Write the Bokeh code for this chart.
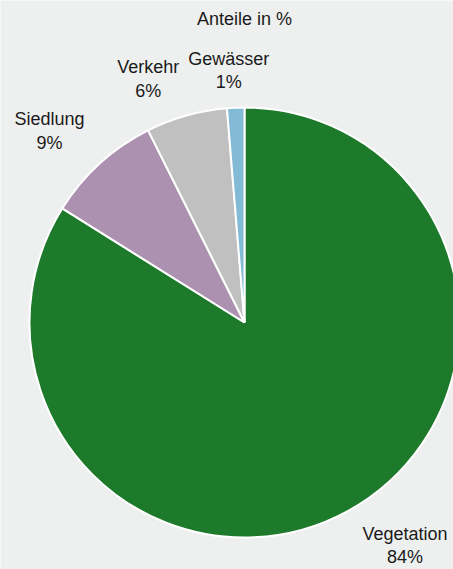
import math
import re
import numpy as np
from bokeh.plotting import figure
from bokeh.models import Range1d, ColumnDataSource
from bokeh.core.properties import value
from bokeh.embed import file_html
from bokeh.resources import INLINE

# ---- data ----
categories = ["Vegetation", "Siedlung", "Verkehr", "Gewässer"]
shares = [83.9, 8.7, 6.1, 1.3]
colors = ["#1e7a2b", "#ad91b1", "#c0c0c0", "#83bbd6"]
title_text = "Anteile in %"

BG = "#eef0ef"
W, H = 453, 569
FONT = "Liberation Sans"
FS = 18

# geometry in picture pixels; data y = -picture y
cx, cy, r = 244, 322, 215

p = figure(width=W, height=H, x_range=Range1d(0, W), y_range=Range1d(-H, 0),
           output_backend="svg", toolbar_location=None, min_border=0,
           background_fill_color=BG, border_fill_color=BG, outline_line_color=None)
p.axis.visible = False
p.xgrid.visible = False
p.ygrid.visible = False

fr = np.array(shares) / sum(shares)
cum_end = np.cumsum(fr)
cum_start = cum_end - fr
start = math.pi / 2 - 2 * math.pi * cum_start
end = math.pi / 2 - 2 * math.pi * cum_end

src = ColumnDataSource(dict(x=[cx] * len(categories), y=[-cy] * len(categories),
                            start=start, end=end, color=colors))
p.wedge(x="x", y="y", radius=r, start_angle="start", end_angle="end",
        direction="clock", fill_color="color", line_color="white", line_width=2, source=src)

# labels
lx, ly, lt = [], [], []
d = 18
h = 38
for cat, s, f0, f1 in zip(categories, shares, cum_start, cum_end):
    a = 2 * math.pi * (f0 + f1) / 2
    dx, dy = math.sin(a), -math.cos(a)
    ax, ay = cx + (r + d) * dx, cy + (r + d) * dy
    w = 0.53 * FS * max(len(cat), 3)
    fx = max(-1, min(1, dx / 0.25))
    fy = max(-1, min(1, dy / 0.25))
    lx.append(ax + fx * w / 2)
    ly.append(-(ay + fy * h / 2))
    lt.append(f"{cat}\n{round(s)}%")

p.text(x=lx, y=ly, text=lt, text_align="center", text_baseline="middle",
       text_font=value(FONT), text_font_size=f"{FS}px", text_color="#1a1a1a",
       text_line_height=1.17)

p.text(x=[cx], y=[-18], text=[title_text], text_align="center", text_baseline="middle",
       text_font=value(FONT), text_font_size=f"{FS}px", text_color="#1a1a1a")

html = file_html(p, INLINE)
html = re.sub(r"<body([^>]*)>", lambda m: f'<body{m.group(1)} style="background-color:{BG};">', html, count=1)
open("out.html", "w").write(html)
